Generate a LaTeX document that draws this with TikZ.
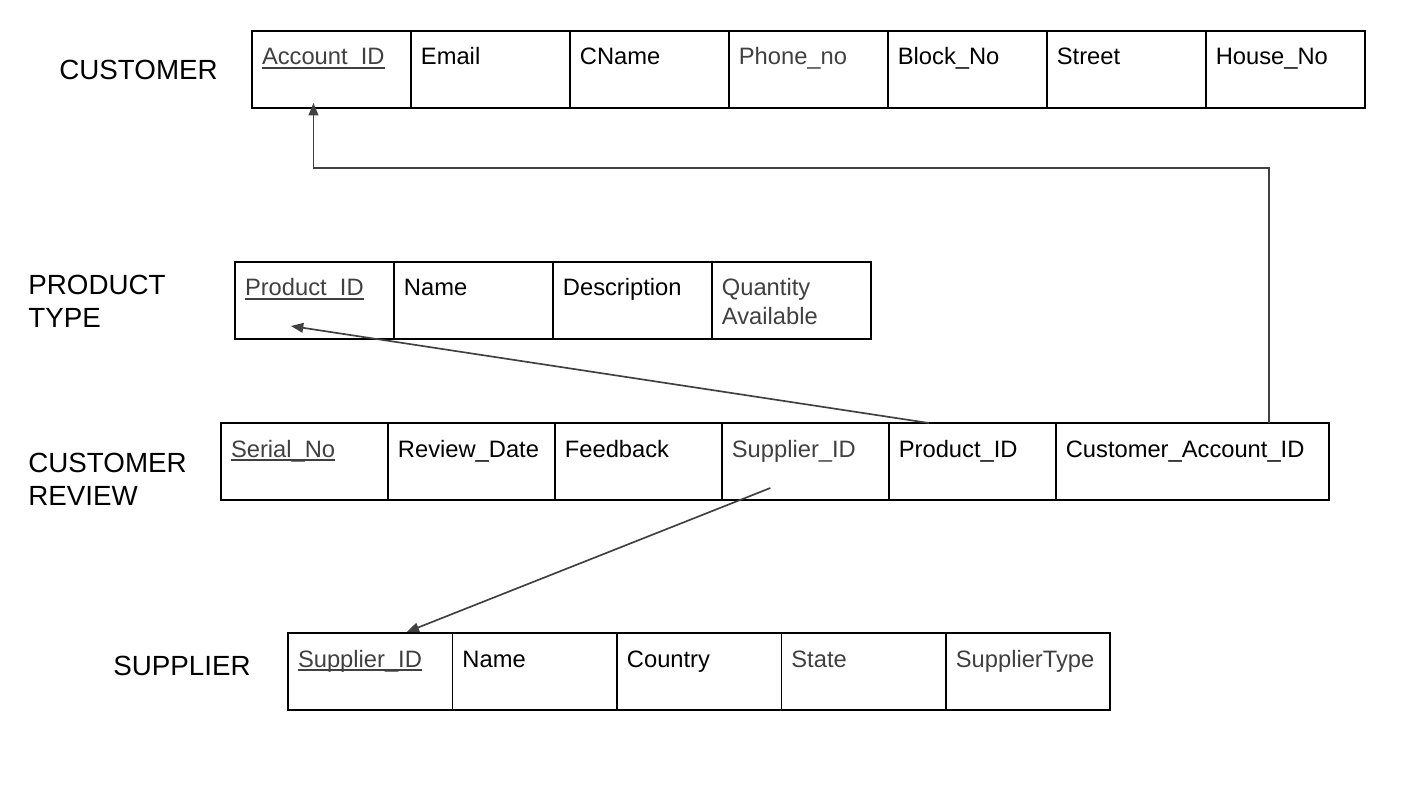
\documentclass[tikz,border=0pt]{standalone}
\usepackage{fontspec}
\setmainfont{Liberation Sans}
\usetikzlibrary{positioning,calc,arrows.meta}

\definecolor{keygray}{HTML}{404040}
% underlined key attribute
\newcommand{\pk}[1]{\setbox0\hbox{#1}\rlap{\rule[-2.2pt]{\wd0}{0.9pt}}\box0}

\tikzset{
    cell/.style={draw=black, line width=1pt, anchor=north west, outer sep=0pt,
        inner xsep=0.2cm, inner ysep=0pt, text width=#1,
        text height=0.68cm, text depth=0.86cm, align=left,
        font=\fontsize{13.5}{16.4}\selectfont},
    key/.style={text=keygray},
    tname/.style={anchor=base west, inner sep=0pt, align=left, text width=4cm,
        font=\fontsize{15.8}{19.2}\selectfont},
    fk/.style={draw=keygray, line width=0.95pt, -{Triangle[length=7pt,width=5.5pt]}}
}

\begin{document}
\begin{tikzpicture}[x=0.02cm, y=-0.02cm]
    \useasboundingbox (0,0) rectangle (1413,785);

    % Table names
    \node[tname] (customer) at (59,79) {CUSTOMER};
    \node[tname] (product) at (28,294) {PRODUCT\\TYPE};
    \node[tname] (review) at (28,472) {CUSTOMER\\REVIEW};
    \node[tname] (supplier) at (113,675) {SUPPLIER};

    % CUSTOMER
    \node[cell=2.78cm, key] (cu1) at (252,31) {\pk{Account\_ID}};
    \node[cell=2.78cm, right=0pt of cu1] (cu2) {Email};
    \node[cell=2.78cm, right=0pt of cu2] (cu3) {CName};
    \node[cell=2.78cm, right=0pt of cu3, key] (cu4) {Phone\_no};
    \node[cell=2.78cm, right=0pt of cu4] (cu5) {Block\_No};
    \node[cell=2.78cm, right=0pt of cu5] (cu6) {Street};
    \node[cell=2.78cm, right=0pt of cu6] (cu7) {House\_No};

    % PRODUCT TYPE
    \node[cell=2.78cm, key] (pt1) at (235,262) {\pk{Product\_ID}};
    \node[cell=2.78cm, right=0pt of pt1] (pt2) {Name};
    \node[cell=2.78cm, right=0pt of pt2] (pt3) {Description};
    \node[cell=2.78cm, right=0pt of pt3, key] (pt4) {Quantity\\Available};

    % CUSTOMER REVIEW
    \node[cell=2.94cm, key] (cr1) at (221,423) {\pk{Serial\_No}};
    \node[cell=2.94cm, right=0pt of cr1] (cr2) {Review\_Date};
    \node[cell=2.94cm, right=0pt of cr2] (cr3) {Feedback};
    \node[cell=2.94cm, right=0pt of cr3, key] (cr4) {Supplier\_ID};
    \node[cell=2.94cm, right=0pt of cr4] (cr5) {Product\_ID};
    \node[cell=5.06cm, right=0pt of cr5] (cr6) {Customer\_Account\_ID};

    % SUPPLIER
    \node[cell=2.89cm, key] (su1) at (288,633) {\pk{Supplier\_ID}};
    \node[cell=2.89cm, right=0pt of su1] (su2) {Name};
    \node[cell=2.89cm, right=0pt of su2] (su3) {Country};
    \node[cell=2.89cm, right=0pt of su3, key] (su4) {State};
    \node[cell=2.89cm, right=0pt of su4, key] (su5) {SupplierType};

    % Foreign keys
    \draw[fk] ($(cr6.north)+(77,0)$) |- ($(cu1.south)+(-18,60)$)
        -- ($(cu1.south)+(-18,-5)$);
    \draw[fk] ($(cr5.north)+(-43.5,0)$) -- ($(pt1.south)+(-23.5,-13)$);
    \draw[fk] ($(cr4.south)+(-35,-12)$) -- ($(su1.north)+(36.5,-1)$);

\end{tikzpicture}
\end{document}
